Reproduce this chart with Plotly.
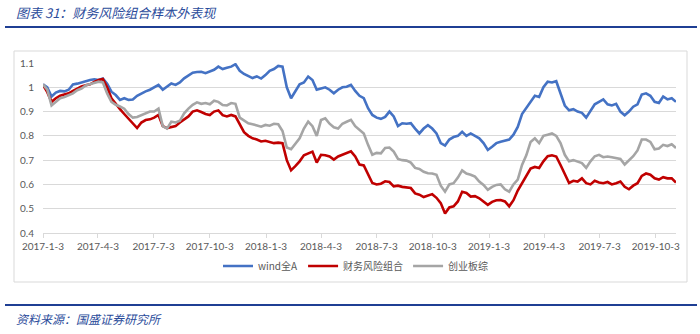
import pandas as pd
import plotly.graph_objects as go

# Weekly observations, first trading day 2017-01-03
start_date = "2017-01-03"
n_weeks = 149

wind_all_a = [
    1.012, 1.000, 0.962, 0.978, 0.985, 0.983, 0.990, 1.012, 1.015, 1.020,
    1.028, 1.030, 1.033, 1.030, 1.036, 1.015, 0.982, 0.968, 0.948, 0.955,
    0.948, 0.950, 0.965, 0.975, 0.983, 0.990, 1.000, 1.010, 0.990, 1.005,
    1.016, 1.010, 1.020, 1.037, 1.050, 1.060, 1.063, 1.064, 1.058, 1.066,
    1.072, 1.085, 1.075, 1.080, 1.085, 1.095, 1.068, 1.055, 1.045, 1.038,
    1.045, 1.036, 1.050, 1.068, 1.075, 1.088, 1.085, 1.000, 0.955, 0.985,
    1.012, 1.020, 1.044, 1.030, 0.990, 0.995, 1.000, 0.990, 0.975, 0.990,
    1.000, 1.002, 1.010, 0.985, 0.965, 0.955, 0.914, 0.886, 0.875, 0.870,
    0.878, 0.900, 0.880, 0.840, 0.852, 0.850, 0.852, 0.830, 0.810, 0.830,
    0.844, 0.830, 0.810, 0.770, 0.760, 0.785, 0.795, 0.800, 0.817, 0.800,
    0.810, 0.800, 0.790, 0.770, 0.742, 0.755, 0.770, 0.776, 0.780, 0.785,
    0.805, 0.837, 0.890, 0.915, 0.945, 0.965, 0.960, 1.000, 1.023, 1.020,
    1.025, 0.975, 0.925, 0.905, 0.910, 0.900, 0.895, 0.875, 0.900, 0.930,
    0.940, 0.950, 0.930, 0.925, 0.932, 0.900, 0.885, 0.900, 0.920, 0.930,
    0.970, 0.975, 0.965, 0.940, 0.935, 0.962, 0.950, 0.955, 0.940,
]

financial_risk = [
    1.010, 0.980, 0.940, 0.955, 0.965, 0.970, 0.975, 0.985, 0.995, 1.003,
    1.008, 1.012, 1.022, 1.030, 1.034, 1.000, 0.955, 0.930, 0.910, 0.890,
    0.870, 0.850, 0.832, 0.855, 0.865, 0.868, 0.875, 0.886, 0.840, 0.832,
    0.837, 0.840, 0.855, 0.866, 0.880, 0.900, 0.905, 0.898, 0.890, 0.886,
    0.900, 0.905, 0.885, 0.880, 0.886, 0.880, 0.845, 0.815, 0.800, 0.790,
    0.785, 0.777, 0.780, 0.775, 0.770, 0.772, 0.770, 0.700, 0.658, 0.675,
    0.695, 0.720, 0.729, 0.735, 0.690, 0.722, 0.720, 0.715, 0.702, 0.715,
    0.722, 0.729, 0.736, 0.715, 0.682, 0.678, 0.640, 0.606, 0.600, 0.603,
    0.613, 0.610, 0.592, 0.595, 0.590, 0.588, 0.585, 0.563, 0.558, 0.548,
    0.555, 0.560, 0.545, 0.523, 0.480, 0.505, 0.510, 0.530, 0.570, 0.565,
    0.550, 0.552, 0.543, 0.530, 0.516, 0.528, 0.535, 0.536, 0.530, 0.510,
    0.535, 0.575, 0.605, 0.640, 0.665, 0.672, 0.668, 0.695, 0.716, 0.720,
    0.715, 0.680, 0.640, 0.606, 0.615, 0.612, 0.625, 0.605, 0.600, 0.615,
    0.608, 0.605, 0.610, 0.600, 0.605, 0.612, 0.590, 0.580, 0.595, 0.605,
    0.635, 0.645, 0.640, 0.625, 0.620, 0.630, 0.625, 0.625, 0.608,
]

chinext_composite = [
    1.012, 0.990, 0.925, 0.940, 0.955, 0.960, 0.968, 0.975, 0.988, 0.995,
    1.008, 1.012, 1.018, 1.023, 1.020, 0.975, 0.940, 0.928, 0.921, 0.912,
    0.890, 0.875, 0.878, 0.886, 0.895, 0.900, 0.900, 0.912, 0.840, 0.830,
    0.858, 0.855, 0.862, 0.893, 0.912, 0.928, 0.938, 0.932, 0.935, 0.930,
    0.945, 0.940, 0.927, 0.925, 0.935, 0.932, 0.875, 0.862, 0.852, 0.848,
    0.842, 0.838, 0.845, 0.842, 0.850, 0.848, 0.820, 0.752, 0.745, 0.770,
    0.790, 0.830, 0.859, 0.840, 0.800, 0.865, 0.872, 0.850, 0.835, 0.830,
    0.850, 0.858, 0.866, 0.840, 0.825, 0.810, 0.763, 0.722, 0.730, 0.728,
    0.750, 0.752, 0.735, 0.705, 0.700, 0.698, 0.690, 0.668, 0.664, 0.652,
    0.646, 0.645, 0.640, 0.595, 0.570, 0.600, 0.605, 0.628, 0.658, 0.645,
    0.640, 0.632, 0.612, 0.598, 0.578, 0.590, 0.598, 0.600, 0.580, 0.570,
    0.600, 0.620, 0.680, 0.720, 0.775, 0.790, 0.770, 0.800, 0.805, 0.810,
    0.800, 0.770, 0.722, 0.695, 0.700, 0.695, 0.688, 0.668, 0.695, 0.716,
    0.722, 0.712, 0.715, 0.712, 0.710, 0.705, 0.682, 0.700, 0.716, 0.740,
    0.785, 0.785, 0.775, 0.745, 0.748, 0.763, 0.758, 0.765, 0.750,
]

series_names = ["wind全A", "财务风险组合", "创业板综"]
series_colors = ["#4472C4", "#C00000", "#A5A5A5"]

tick_dates = ["2017-01-03", "2017-04-03", "2017-07-03", "2017-10-03",
              "2018-01-03", "2018-04-03", "2018-07-03", "2018-10-03",
              "2019-01-03", "2019-04-03", "2019-07-03", "2019-10-03"]
tick_labels = ["2017-1-3", "2017-4-3", "2017-7-3", "2017-10-3",
               "2018-1-3", "2018-4-3", "2018-7-3", "2018-10-3",
               "2019-1-3", "2019-4-3", "2019-7-3", "2019-10-3"]

y_ticks = [0.4, 0.5, 0.6, 0.7, 0.8, 0.9, 1.0, 1.1]
y_labels = ["0.4", "0.5", "0.6", "0.7", "0.8", "0.9", "1", "1.1"]

title_text = "图表 31：财务风险组合样本外表现"
source_text = "资料来源：国盛证券研究所"

dates = pd.date_range(start_date, periods=n_weeks, freq="7D")

cjk = "Noto Sans CJK SC"
num_font = "Lato, Noto Sans CJK SC, sans-serif"
axis_grey = "#595959"
grid_grey = "#D9D9D9"
brand_blue = "#2B4C9B"

fig = go.Figure()
for name, color, values in zip(series_names, series_colors,
                               [wind_all_a, financial_risk, chinext_composite]):
    fig.add_trace(go.Scatter(
        x=dates, y=values, name=name, mode="lines",
        line=dict(color=color, width=2.6),
    ))

# plot area spans x 43..676, y 63..233 of the 700x334 page
L, R, T, B = 43, 24, 63, 101
W, H = 700 - L - R, 334 - T - B


def px(xp):
    return (xp - L) / W


def py(yp):
    return (334 - B - yp) / H


shapes = [
    # frame around the chart block
    dict(type="rect", xref="paper", yref="paper",
         x0=px(14), x1=px(687), y0=py(282), y1=py(51),
         line=dict(color=grid_grey, width=1)),
    # header and footer rules
    dict(type="line", xref="paper", yref="paper",
         x0=px(5), x1=px(697), y0=py(27), y1=py(27),
         line=dict(color="#1F3F94", width=2)),
    dict(type="line", xref="paper", yref="paper",
         x0=px(5), x1=px(697), y0=py(305), y1=py(305),
         line=dict(color="#1F3F94", width=2)),
]

annotations = [
    dict(text=title_text, xref="paper", yref="paper",
         x=px(14), y=py(13), xanchor="left", yanchor="middle", showarrow=False,
         font=dict(family=cjk, size=13, color=brand_blue, style="italic")),
    dict(text=source_text, xref="paper", yref="paper",
         x=px(14), y=py(318), xanchor="left", yanchor="middle", showarrow=False,
         font=dict(family=cjk, size=12, color=brand_blue, style="italic")),
]

fig.update_layout(
    width=700, height=334,
    margin=dict(l=L, r=R, t=T, b=B),
    paper_bgcolor="white", plot_bgcolor="white",
    showlegend=True,
    legend=dict(orientation="h", x=px(356), xanchor="center",
                y=py(266), yanchor="middle",
                font=dict(family=cjk, size=10, color=axis_grey),
                itemwidth=30, tracegroupgap=0, bgcolor="rgba(0,0,0,0)"),
    shapes=shapes,
    annotations=annotations,
    xaxis=dict(
        type="date",
        range=[dates[0], dates[-1]],
        tickvals=tick_dates, ticktext=tick_labels,
        showgrid=False, zeroline=False,
        showline=True, linecolor=grid_grey, linewidth=1,
        ticks="outside", ticklen=4, tickcolor=grid_grey,
        tickfont=dict(family=num_font, size=10, color=axis_grey),
    ),
    yaxis=dict(
        range=[0.4, 1.1],
        tickvals=y_ticks, ticktext=y_labels,
        showgrid=True, gridcolor=grid_grey, gridwidth=1,
        zeroline=False, showline=False, ticks="",
        ticklabelstandoff=8,
        tickfont=dict(family=num_font, size=10, color=axis_grey),
    ),
)

fig.write_html("out.html")
